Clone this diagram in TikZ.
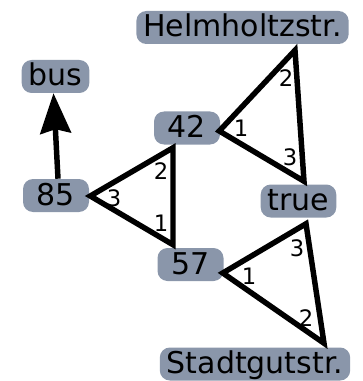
\documentclass[tikz,border=0pt]{standalone}
\usepackage{fontspec}
\setmainfont{DejaVu Sans}
\usetikzlibrary{arrows.meta,calc}
\definecolor{boxgray}{RGB}{138,150,170}

\begin{document}
\begin{tikzpicture}[x=0.75pt,y=-0.75pt,
  term/.style={fill=boxgray,rounded corners=7.5pt,inner xsep=5.25pt,inner ysep=0pt,
    minimum width=49.5pt,text height=19.5pt,text depth=5.25pt,
    font=\fontsize{22.5}{27}\selectfont},
  hedge/.style={line width=4.1pt,line join=miter},
  role/.style={font=\fontsize{17}{20}\selectfont,inner sep=0pt}]
\useasboundingbox (0,0) rectangle (363,381);
% die Knoten
\node[term] (helm) at (242.5,27.5) {Helmholtzstr.};
\node[term] (bus) at (55.5,76.5) {bus};
\node[term] (n42) at (187,128) {42};
\node[term] (n85) at (56,195.5) {85};
\node[term] (true) at (298.5,201) {true};
\node[term] (n57) at (190.5,264.5) {57};
\node[term] (stadt) at (255,364) {Stadtgutstr.};
% Kante 85 -> bus
\draw[line width=4.1pt,-{Stealth[length=30pt,width=23pt,inset=3pt]}]
  ($(n85.north)+(2,0)$) -- ($(bus.south)+(-2,0)$);
% Hyperkante 42, Helmholtzstr., true
\draw[hedge] ($(n42.east)+(-1,3)$) -- ($(helm.south)+(52.5,6)$)
  -- ($(true.north)+(5.5,-3)$) -- cycle;
\node[role] at (241,128) {1};
\node[role] at (286,78) {2};
\node[role] at (290,157) {3};
% Hyperkante 57, 42, 85
\draw[hedge] ($(n57.north)+(-17.5,-3)$) -- ($(n42.south)+(-14,3)$)
  -- ($(n85.east)+(1,0.5)$) -- cycle;
\node[role] at (161,223) {1};
\node[role] at (161,171) {2};
\node[role] at (114,198) {3};
% Hyperkante 57, Stadtgutstr., true
\draw[hedge] ($(n57.east)+(-1,8.5)$) -- ($(stadt.north)+(69,-4)$)
  -- ($(true.south)+(7.5,6)$) -- cycle;
\node[role] at (249,276) {1};
\node[role] at (306,318) {2};
\node[role] at (297,248) {3};
\end{tikzpicture}
\end{document}
